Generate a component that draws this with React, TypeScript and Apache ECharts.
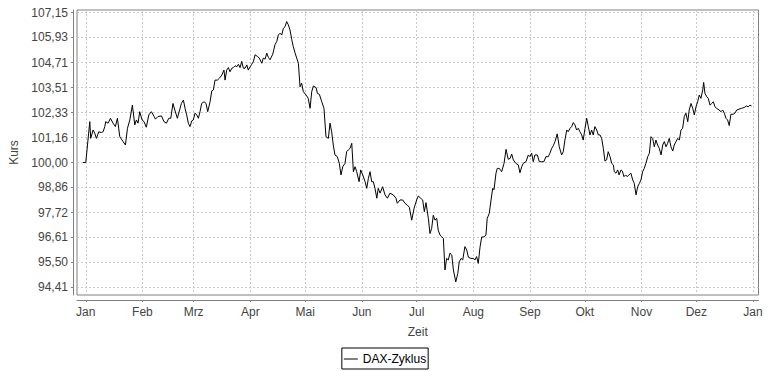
import { useEffect, useRef } from "react";
import * as echarts from "echarts";

const seriesName = "DAX-Zyklus";
const xAxisName = "Zeit";
const yAxisName = "Kurs";
const monthLabels = ["Jan", "Feb", "Mrz", "Apr", "Mai", "Jun", "Jul", "Aug", "Sep", "Okt", "Nov", "Dez", "Jan"];
const monthStartDays = [0, 31, 59, 90, 120, 151, 181, 212, 243, 273, 304, 334, 365];
const yTickLabels = ["94,41", "95,50", "96,61", "97,72", "98,86", "100,00", "101,16", "102,33", "103,51", "104,71", "105,93", "107,15"];
const yAxisMinKurs = 94.08;
const yAxisMaxKurs = 107.28;
const xAxisMinDay = -4.8;
const xAxisMaxDay = 368;

// day of year (0 = 1. Januar) of each reading
const dayOfYear = [
  -1.5, 0, 2.2, 2.7, 4.0, 4.9, 5.8, 7.1, 8.5, 9.5, 10.4, 10.9, 12.2, 13.5, 14.9, 16.2, 17.3, 18.6, 20.4, 21.7,
  22.8, 24.1, 25.5, 26.8, 27.7, 28.6, 29.5, 30.8, 31.9, 33.1, 34.5, 35.9, 37.4, 38.1, 39.5, 41.4, 42.8, 44.1, 45.4, 46.5,
  47.7, 48.7, 50.1, 52.3, 53.4, 54.3, 55.2, 56.1, 57.0, 58.0, 58.8, 59.8, 60.7, 61.6, 62.5, 63.4, 64.7, 65.8, 66.7, 68.0,
  68.9, 69.8, 70.7, 72.0, 73.1, 74.4, 75.6, 76.2, 77.1, 78.0, 78.9, 79.9, 80.7, 81.7, 82.6, 83.5, 84.4, 85.3, 86.2, 87.1,
  88.1, 88.9, 89.9, 90.8, 91.7, 92.6, 93.9, 94.9, 96.3, 97.1, 98.1, 99.0, 99.9, 100.8, 102.3, 103.5, 104.5, 105.3, 106.3, 107.2,
  108.1, 109.0, 109.9, 110.8, 111.7, 112.7, 113.5, 114.5, 115.4, 116.3, 117.2, 118.1, 119.0, 120.5, 121.7, 122.7, 123.6, 124.5, 126.0, 126.7,
  127.8, 129.1, 130.3, 131.4, 132.7, 133.6, 134.5, 135.4, 136.3, 137.6, 138.7, 139.6, 140.6, 141.8, 142.7, 143.6, 144.6, 145.5, 146.4, 147.3,
  148.2, 149.5, 150.4, 151.5, 152.8, 153.7, 154.6, 155.5, 156.4, 157.3, 158.2, 159.2, 160.0, 161.0, 162.4, 163.7, 165.0, 166.4, 168.2, 169.7,
  170.4, 171.9, 173.4, 174.6, 175.9, 177.0, 178.3, 179.6, 181.0, 181.9, 183.2, 184.3, 185.2, 186.1, 187.4, 188.3, 189.2, 190.1, 191.0, 192.0,
  192.8, 193.8, 194.7, 195.6, 196.5, 197.4, 198.3, 199.2, 200.2, 201.1, 202.4, 203.5, 204.3, 205.3, 206.2, 207.4, 208.4, 209.3, 210.7, 212.0,
  212.9, 213.8, 214.7, 215.7, 216.6, 217.8, 218.9, 219.6, 220.7, 221.7, 222.6, 223.3, 224.4, 225.1, 226.2, 227.5, 228.8, 229.9, 231.1, 232.1,
  233.0, 233.9, 235.3, 236.6, 237.5, 238.5, 239.3, 240.8, 242.1, 243.0, 243.9, 244.8, 245.7, 247.0, 248.1, 249.4, 250.6, 251.7, 253.0, 253.9,
  254.9, 255.7, 256.7, 257.9, 259.0, 260.3, 261.2, 262.1, 263.1, 263.9, 264.9, 265.8, 266.7, 267.6, 268.5, 269.4, 270.3, 271.3, 272.1, 273.1,
  274.0, 274.9, 275.8, 276.7, 277.6, 278.5, 279.5, 280.4, 281.3, 282.2, 283.1, 284.0, 284.9, 285.8, 286.8, 287.7, 288.6, 289.1, 290.0, 291.0,
  291.7, 292.8, 293.5, 294.4, 295.3, 296.2, 297.1, 298.2, 299.2, 300.0, 301.0, 301.9, 302.8, 303.7, 304.6, 305.5, 306.4, 307.4, 308.3, 309.2,
  310.1, 311.0, 311.9, 312.8, 313.7, 314.7, 315.6, 316.5, 317.4, 318.3, 319.2, 320.1, 321.1, 321.9, 322.9, 323.8, 324.7, 325.6, 326.5, 327.4,
  328.3, 329.3, 330.1, 331.1, 332.0, 332.9, 333.8, 334.7, 335.6, 336.5, 337.5, 338.0, 338.7, 339.7, 340.5, 341.5, 342.4, 343.3, 344.2, 345.1,
  346.4, 347.5, 348.4, 349.3, 350.2, 351.1, 352.0, 352.9, 354.2, 355.1, 356.1, 357.3, 358.8, 360.2, 361.5, 362.4, 363.3, 364.2,
];

// Kurs (index, start = 100)
const kurs = [
  100.0, 100.0, 101.9, 101.12, 101.51, 101.36, 101.12, 101.43, 101.39, 101.43, 101.67, 101.9, 101.83, 102.06, 101.83, 101.67, 102.06, 101.2, 100.97, 100.81,
  101.59, 101.98, 102.68, 101.75, 101.98, 101.83, 102.37, 101.98, 101.9, 101.64, 102.22, 102.37, 102.14, 102.02, 102.14, 102.17, 101.9, 101.83, 102.06, 102.06,
  102.76, 102.45, 102.06, 102.76, 102.92, 102.53, 102.22, 101.83, 101.67, 101.94, 101.98, 102.3, 102.22, 102.06, 102.37, 102.76, 102.84, 102.76, 102.37, 102.84,
  103.35, 103.4, 103.87, 103.87, 103.96, 104.11, 104.35, 103.87, 104.35, 104.47, 104.27, 104.44, 104.47, 104.56, 104.51, 104.63, 104.47, 104.77, 104.44, 104.44,
  104.6, 104.35, 104.51, 104.63, 104.77, 105.09, 105.01, 104.93, 104.68, 104.93, 104.88, 105.17, 104.96, 104.85, 105.12, 105.58, 105.74, 106.05, 106.14, 106.05,
  106.38, 106.46, 106.71, 106.55, 106.3, 105.82, 105.49, 105.17, 104.93, 104.68, 103.55, 103.72, 103.32, 103.16, 103.0, 102.53, 103.32, 103.59, 103.51, 103.24,
  103.19, 102.84, 102.53, 101.2, 101.12, 101.83, 101.43, 100.81, 100.35, 100.27, 99.96, 99.43, 99.81, 99.96, 100.5, 100.58, 100.66, 100.89, 99.58, 99.81,
  99.58, 99.12, 99.66, 99.43, 99.12, 98.82, 99.28, 99.58, 99.12, 99.12, 98.82, 98.37, 98.82, 98.6, 98.89, 98.52, 98.37, 98.6, 98.52, 98.37,
  98.14, 98.29, 98.29, 98.14, 98.06, 97.96, 97.38, 97.92, 98.29, 98.47, 98.37, 98.29, 97.76, 98.17, 97.46, 96.78, 97.01, 97.6, 97.38, 97.46,
  96.93, 96.71, 96.64, 96.57, 95.17, 95.68, 95.61, 95.91, 95.83, 95.17, 94.65, 95.02, 95.53, 95.68, 95.61, 96.2, 96.05, 95.73, 95.68, 95.68,
  95.61, 95.76, 95.46, 96.2, 96.63, 96.63, 96.71, 97.46, 97.68, 98.29, 98.82, 98.75, 99.51, 99.73, 99.73, 99.58, 99.96, 100.61, 100.15, 100.19,
  100.39, 100.12, 99.96, 99.89, 99.53, 99.81, 99.96, 100.04, 100.35, 100.27, 100.43, 100.04, 100.35, 100.35, 100.04, 100.04, 100.04, 100.27, 100.27, 100.43,
  100.66, 100.77, 100.97, 101.33, 100.73, 100.35, 100.5, 101.04, 101.51, 101.43, 101.59, 101.67, 101.86, 101.75, 101.51, 101.59, 101.43, 101.28, 101.04, 101.59,
  102.06, 101.67, 101.28, 101.51, 101.28, 101.67, 101.51, 101.28, 101.28, 101.12, 100.66, 100.07, 100.12, 100.5, 100.27, 99.96, 99.89, 99.58, 99.51, 99.66,
  99.43, 99.66, 99.61, 99.35, 99.43, 99.35, 99.43, 99.51, 99.2, 99.05, 98.52, 98.89, 99.04, 99.2, 99.58, 99.73, 99.96, 100.27, 100.43, 101.2,
  101.12, 100.73, 101.04, 100.81, 100.66, 100.35, 100.81, 100.97, 100.73, 100.89, 101.12, 100.73, 100.53, 100.81, 100.97, 101.12, 101.04, 101.51, 101.59, 102.14,
  102.3, 101.9, 102.45, 102.76, 102.53, 102.22, 102.6, 102.84, 103.16, 103.0, 103.4, 103.76, 103.24, 103.08, 103.0, 102.68, 102.76, 102.84, 102.6, 102.53,
  102.45, 102.37, 102.45, 102.3, 102.06, 101.98, 101.72, 102.25, 102.25, 102.3, 102.45, 102.49, 102.53, 102.57, 102.64, 102.6, 102.68, 102.64,
];

const FONT = "'Liberation Sans', Arial, sans-serif";
const yTickNumbers = yTickLabels.map((s) => parseFloat(s.replace(",", ".")));
const LOG_STEP = Math.log(yTickNumbers[yTickNumbers.length - 1] / yTickNumbers[0]) / (yTickNumbers.length - 1);
const toStep = (v: number) => Math.log(v / 100) / LOG_STEP;
const yTickSteps = yTickNumbers.map(toStep);

export default function App() {
  const ref = useRef<HTMLDivElement>(null);

  useEffect(() => {
    if (!ref.current) return;
    const chart = echarts.init(ref.current, undefined, { renderer: "svg" });
    const data = dayOfYear.map((d, i) => [d, toStep(kurs[i])]);

    chart.setOption({
      animation: false,
      backgroundColor: "#ffffff",
      textStyle: { fontFamily: FONT },
      grid: {
        left: 77,
        right: 11.5,
        top: 10,
        bottom: 76,
        show: true,
        backgroundColor: "#ffffff",
        borderColor: "#808080",
        borderWidth: 1,
        outerBoundsMode: "none",
        containLabel: false,
      },
      legend: {
        show: true,
        data: [{ name: seriesName, icon: "rect" }],
        left: "center",
        top: 348,
        padding: [4, 2, 3, 2],
        borderColor: "#000000",
        borderWidth: 1,
        itemWidth: 14,
        itemHeight: 1,
        itemGap: 5,
        itemStyle: { color: "#000000", borderWidth: 0 },
        textStyle: { color: "#000000", fontSize: 12, fontFamily: FONT, lineHeight: 14 },
      },
      xAxis: {
        type: "value",
        min: xAxisMinDay,
        max: xAxisMaxDay,
        offset: 5,
        name: xAxisName,
        nameLocation: "middle",
        nameGap: 26,
        nameTextStyle: { color: "#444444", fontSize: 12, fontFamily: FONT },
        axisLine: { show: true, onZero: false, lineStyle: { color: "#808080", width: 1 } },
        axisTick: { show: true, length: 2, inside: false, customValues: monthStartDays, lineStyle: { color: "#808080" } },
        axisLabel: {
          customValues: monthStartDays,
          margin: 6,
          color: "#444444",
          fontSize: 12,
          fontFamily: FONT,
          formatter: (v: number) => {
            const idx = monthStartDays.indexOf(Math.round(v));
            return idx >= 0 ? monthLabels[idx] : "";
          },
        },
        splitLine: { show: true, lineStyle: { color: "#c8c8c8", width: 1, type: [2, 2] } },
      },
      yAxis: {
        type: "value",
        min: toStep(yAxisMinKurs),
        max: toStep(yAxisMaxKurs),
        offset: 4,
        name: yAxisName,
        nameLocation: "middle",
        nameGap: 45,
        nameRotate: 90,
        nameTextStyle: { color: "#444444", fontSize: 12, fontFamily: FONT },
        axisLine: { show: true, onZero: false, lineStyle: { color: "#808080", width: 1 } },
        axisTick: { show: true, length: 2, inside: false, customValues: yTickSteps, lineStyle: { color: "#808080" } },
        axisLabel: {
          customValues: yTickSteps,
          margin: 5,
          color: "#444444",
          fontSize: 12,
          fontFamily: FONT,
          formatter: (v: number) => {
            let best = 0;
            for (let i = 1; i < yTickSteps.length; i++) {
              if (Math.abs(yTickSteps[i] - v) < Math.abs(yTickSteps[best] - v)) best = i;
            }
            return yTickLabels[best];
          },
        },
        splitLine: { show: true, lineStyle: { color: "#c8c8c8", width: 1, type: [2, 2] } },
      },
      series: [
        {
          name: seriesName,
          type: "line",
          data,
          symbol: "none",
          showSymbol: false,
          clip: true,
          lineStyle: { color: "#000000", width: 1 },
          itemStyle: { color: "#000000" },
        },
      ],
    });

    return () => chart.dispose();
  }, []);

  return (
    <div
      ref={ref}
      style={{ position: "fixed", left: 0, top: 0, width: 770, height: 371, background: "#ffffff" }}
    />
  );
}
